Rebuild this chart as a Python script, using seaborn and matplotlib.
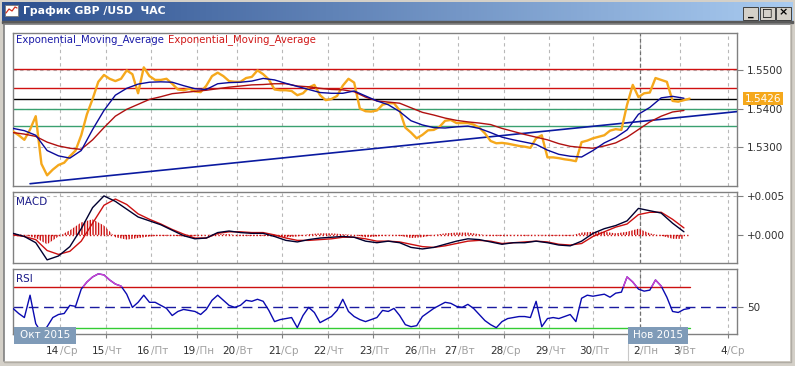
import numpy as np
import matplotlib
matplotlib.use('Agg')
import matplotlib.pyplot as plt
import matplotlib.transforms as mtransforms
from matplotlib.colors import LinearSegmentedColormap
from matplotlib.patches import Rectangle
import seaborn as sns

sns.set_theme(style='white')
plt.rcParams['font.family'] = ['DejaVu Sans']

# ---- data: GBP/USD hourly bars, x = bar index from 13 Oct ----
PRICE_STEP = 3      # price and RSI read every 3 bars
IND_STEP = 6        # EMAs and MACD read every 6 bars

price = [
    1.5340, 1.5330, 1.5318, 1.5345, 1.5380, 1.5255, 1.5225, 1.5240, 1.5252, 1.5258,
    1.5275, 1.5290, 1.5330, 1.5385, 1.5425, 1.5470, 1.5488, 1.5478, 1.5472, 1.5478,
    1.5500, 1.5490, 1.5440, 1.5508, 1.5485, 1.5475, 1.5475, 1.5478, 1.5465, 1.5450,
    1.5448, 1.5452, 1.5445, 1.5443, 1.5460, 1.5485, 1.5494, 1.5485, 1.5472, 1.5470,
    1.5470, 1.5480, 1.5483, 1.5500, 1.5490, 1.5476, 1.5450, 1.5448, 1.5448, 1.5446,
    1.5435, 1.5440, 1.5455, 1.5462, 1.5435, 1.5422, 1.5425, 1.5433, 1.5460, 1.5478,
    1.5468, 1.5400, 1.5393, 1.5392, 1.5395, 1.5410, 1.5414, 1.5414, 1.5395, 1.5350,
    1.5337, 1.5322, 1.5331, 1.5343, 1.5344, 1.5352, 1.5368, 1.5370, 1.5362, 1.5362,
    1.5362, 1.5358, 1.5350, 1.5335, 1.5315, 1.5309, 1.5310, 1.5308, 1.5305, 1.5302,
    1.5300, 1.5297, 1.5322, 1.5330, 1.5272, 1.5272, 1.5270, 1.5267, 1.5265, 1.5262,
    1.5312, 1.5316, 1.5322, 1.5326, 1.5330, 1.5342, 1.5346, 1.5344, 1.5410, 1.5462,
    1.5430, 1.5440, 1.5442, 1.5480, 1.5475, 1.5470, 1.5420, 1.5418, 1.5422, 1.5426,
]

ema_fast = [
    1.5348, 1.5342, 1.5330, 1.5290, 1.5276, 1.5270, 1.5290, 1.5345, 1.5395, 1.5435,
    1.5453, 1.5464, 1.5469, 1.5470, 1.5469, 1.5460, 1.5452, 1.5450, 1.5465, 1.5468,
    1.5469, 1.5472, 1.5479, 1.5475, 1.5466, 1.5458, 1.5450, 1.5442, 1.5440, 1.5440,
    1.5446, 1.5433, 1.5420, 1.5410, 1.5392, 1.5368, 1.5357, 1.5350, 1.5349, 1.5352,
    1.5354, 1.5348, 1.5337, 1.5325, 1.5318, 1.5312, 1.5306, 1.5291, 1.5280, 1.5275,
    1.5273, 1.5290, 1.5310, 1.5324, 1.5344, 1.5385, 1.5403, 1.5428, 1.5432, 1.5427,
]

ema_slow = [
    1.5337, 1.5333, 1.5327, 1.5312, 1.5302, 1.5296, 1.5293, 1.5318, 1.5350, 1.5380,
    1.5398, 1.5411, 1.5424, 1.5431, 1.5439, 1.5442, 1.5445, 1.5448, 1.5452, 1.5456,
    1.5459, 1.5462, 1.5463, 1.5465, 1.5465, 1.5459, 1.5457, 1.5453, 1.5450, 1.5449,
    1.5444, 1.5430, 1.5420, 1.5417, 1.5414, 1.5402, 1.5390, 1.5383, 1.5375, 1.5369,
    1.5365, 1.5362, 1.5358, 1.5348, 1.5340, 1.5332, 1.5325, 1.5318, 1.5308, 1.5301,
    1.5298, 1.5296, 1.5302, 1.5310, 1.5325, 1.5345, 1.5365, 1.5380, 1.5391, 1.5395,
]

macd = [
    0.0002, -0.0002, -0.0010, -0.0032, -0.0027, -0.0015, 0.0008, 0.0035, 0.0050, 0.0043,
    0.0033, 0.0023, 0.0018, 0.0013, 0.0006, -0.0001, -0.0005, -0.0004, 0.0003, 0.0005,
    0.0003, 0.0002, 0.0002, -0.0002, -0.0007, -0.0009, -0.0006, -0.0004, -0.0003, -0.0002,
    -0.0003, -0.0008, -0.0010, -0.0008, -0.0010, -0.0016, -0.0018, -0.0016, -0.0012, -0.0008,
    -0.0005, -0.0006, -0.0009, -0.0012, -0.0010, -0.0010, -0.0008, -0.0010, -0.0013, -0.0014,
    -0.0008, 0.0002, 0.0008, 0.0012, 0.0018, 0.0034, 0.0031, 0.0028, 0.0015, 0.0004,
]

macd_signal = [
    0.0000, -0.0002, -0.0006, -0.0020, -0.0025, -0.0021, -0.0008, 0.0015, 0.0038, 0.0046,
    0.0039, 0.0027, 0.0020, 0.0014, 0.0007, 0.0001, -0.0004, -0.0004, 0.0002, 0.0004,
    0.0004, 0.0003, 0.0003, 0.0000, -0.0004, -0.0007, -0.0007, -0.0006, -0.0005, -0.0003,
    -0.0003, -0.0005, -0.0008, -0.0008, -0.0009, -0.0012, -0.0015, -0.0016, -0.0014, -0.0011,
    -0.0008, -0.0007, -0.0008, -0.0011, -0.0010, -0.0009, -0.0008, -0.0009, -0.0012, -0.0013,
    -0.0011, -0.0002, 0.0004, 0.0010, 0.0014, 0.0026, 0.0029, 0.0029, 0.0020, 0.0009,
]

rsi = [
    49, 44, 40, 62, 34, 25, 31, 40, 43, 44,
    52, 51, 68, 75, 80, 83, 82, 77, 73, 71,
    63, 50, 55, 62, 55, 55, 52, 49, 42, 46,
    48, 47, 46, 43, 48, 57, 62, 57, 52, 50,
    52, 57, 56, 58, 56, 47, 36, 38, 39, 40,
    30, 42, 50, 45, 35, 38, 41, 47, 58, 46,
    41, 38, 36, 38, 40, 47, 46, 49, 42, 33,
    31, 32, 41, 45, 49, 52, 55, 54, 51, 50,
    53, 49, 43, 37, 33, 30, 36, 39, 40, 41,
    41, 40, 56, 31, 39, 40, 39, 41, 43, 36,
    59, 62, 61, 62, 63, 60, 64, 65, 80, 75,
    68, 66, 67, 77, 71, 60, 46, 45, 48, 49,
]

# drawn levels and trend line
red_levels = [1.5503, 1.5453]
black_level = 1.5426
green_levels = [1.5400, 1.5353]
trend_x = [9, 382]
trend_y = [1.5203, 1.5392]
last_price = 1.5426

# day axis
day_pos = [25, 49, 73, 97, 118, 142, 166, 190, 214, 235, 259, 283, 306, 331, 352, 377]
day_num = ['14', '15', '16', '19', '20', '21', '22', '23', '26', '27', '28', '29', '30', '2', '3', '4']
day_name = ['Ср', 'Чт', 'Пт', 'Пн', 'Вт', 'Ср', 'Чт', 'Пт', 'Пн', 'Вт', 'Ср', 'Чт', 'Пт', 'Пн', 'Вт', 'Ср']
month_sep = 331

price_ticks = [1.53, 1.54, 1.55]
macd_ticks = [0.0, 0.005]
rsi_ticks = [50]

# ---- figure ----
W, H = 795, 366
fig = plt.figure(figsize=(W / 100, H / 100), dpi=100, facecolor='#d4d0c8')


def px_axes(z):
    a = fig.add_axes([0, 0, 1, 1], zorder=z)
    a.set_xlim(0, W); a.set_ylim(H, 0); a.axis('off')
    a.patch.set_alpha(0)
    return a


def rect_px(x0, y0, x1, y1):
    return [x0 / W, 1 - y1 / H, (x1 - x0) / W, (y1 - y0) / H]


# window chrome
bg = px_axes(0)
cmap = LinearSegmentedColormap.from_list('title', ['#2c4f8e', '#a9cbf0'])
bg.imshow(np.linspace(0, 1, 256)[None, :], cmap=cmap, aspect='auto',
          extent=(2, 793, 21, 2), zorder=1)
bg.add_patch(Rectangle((2, 21), 791, 1.5, color='#5a5a5a', zorder=2))
bg.add_patch(Rectangle((4, 23), 786, 338, facecolor='white', edgecolor='none', zorder=1))
bg.plot([3.5, 3.5, 790], [361, 23.5, 23.5], color='#808080', lw=1.2, zorder=2)
bg.plot([3.5, 790.5, 790.5], [361.5, 361.5, 23.5], color='#b0aca4', lw=1.0, zorder=2)
# icon
bg.add_patch(Rectangle((5, 5), 13, 11, facecolor='white', edgecolor='#7a7a7a', lw=0.6, zorder=3))
bg.plot([6, 9, 12, 15, 17], [13, 9, 11, 7, 8], color='#d03020', lw=0.9, zorder=4)
bg.text(23, 11.5, 'График GBP /USD  ЧАС', color='white', fontsize=7.8, fontweight='bold',
        va='center', ha='left', zorder=3)
for x0, glyph in [(743, '_'), (759.5, '□'), (776, '×')]:
    bg.add_patch(Rectangle((x0, 6.5), 15, 13, facecolor='#d4d0c8', edgecolor='#404040',
                           lw=0.7, zorder=3))
    bg.text(x0 + 7.5, 12.5, glyph, ha='center', va='center', fontsize=8,
            fontweight='bold', color='black', zorder=4)

ax = fig.add_axes(rect_px(13, 33, 737, 186), zorder=2)
ax_m = fig.add_axes(rect_px(13, 192, 737, 263), zorder=2)
ax_r = fig.add_axes(rect_px(13, 269, 737, 334), zorder=2)

xp = np.arange(len(price)) * PRICE_STEP
xi = np.arange(len(ema_fast)) * IND_STEP
x_end = xp[-1]

GRID = dict(color='#b8b8b8', linestyle=(0, (3, 3)), linewidth=0.8)
for a in (ax, ax_m, ax_r):
    a.set_facecolor('white')
    a.set_xlim(0, 382)
    a.set_xticks(day_pos)
    a.xaxis.grid(True, **GRID)
    a.axvline(month_sep, color='#707070', linestyle=(0, (3, 2)), linewidth=0.9, zorder=1)
    for s in a.spines.values():
        s.set_color('#808080'); s.set_linewidth(1.0)
    a.yaxis.tick_right()
    a.tick_params(axis='y', right=True, left=False, length=4, width=0.8, color='#808080',
                  labelsize=7.5, labelcolor='#303030', pad=3)
    a.tick_params(axis='x', bottom=False, labelbottom=False)
    a.set_axisbelow(True)

# ---- main price panel ----
ax.set_ylim(1.5197, 1.5598)
ax.set_yticks(price_ticks)
ax.set_yticklabels([f'{v:.4f}' for v in price_ticks])
ax.yaxis.grid(True, **GRID)
for lv in red_levels:
    ax.axhline(lv, color='#d01010', lw=1.0, zorder=2)
ax.axhline(black_level, color='black', lw=1.0, zorder=2)
for lv in green_levels:
    ax.axhline(lv, color='#3aa070', lw=1.0, zorder=2)
sns.lineplot(x=trend_x, y=trend_y, ax=ax, color='#0a1aa0', linewidth=1.2, zorder=3)
sns.lineplot(x=xp, y=price, ax=ax, color='#f5a81c', linewidth=1.7, zorder=4)
sns.lineplot(x=xi, y=ema_slow, ax=ax, color='#b01010', linewidth=1.0, zorder=5)
sns.lineplot(x=xi, y=ema_fast, ax=ax, color='#0a0a9a', linewidth=1.0, zorder=6)
ax.text(1.011, last_price, f'{last_price:.4f}',
        transform=mtransforms.blended_transform_factory(ax.transAxes, ax.transData),
        ha='left', va='center', fontsize=7.5, color='white', clip_on=False,
        bbox=dict(boxstyle='square,pad=0.15', facecolor='#f5a81c', edgecolor='none'))
t1 = ax.text(0.004, 0.955, 'Exponential_Moving_Average', transform=ax.transAxes,
             fontsize=7.3, color='#1a1aa8', ha='left', va='center')
ax.annotate('Exponential_Moving_Average', xy=(1, 0.5), xycoords=t1, xytext=(3, 0),
            textcoords='offset points', fontsize=7.3, color='#d01818', ha='left', va='center')

# ---- MACD panel ----
macd_a = np.array(macd)
sig_a = np.array(macd_signal)
hist = macd_a - sig_a
ax_m.set_ylim(-0.0036, 0.0055)
ax_m.set_yticks(macd_ticks)
ax_m.set_yticklabels([f'+{v:.3f}' for v in macd_ticks])
ax_m.axhline(0.005, **GRID)
ax_m.plot([0, x_end], [0, 0], color='#cc1010', lw=1.0, linestyle=(0, (1, 1.5)), zorder=2)
ax_m.fill_between(xi, 0, hist, facecolor='none', edgecolor='#cc1010', hatch='||||||',
                  linewidth=0, zorder=2)
sns.lineplot(x=xi, y=macd_a, ax=ax_m, color='#000030', linewidth=1.0, zorder=4)
sns.lineplot(x=xi, y=sig_a, ax=ax_m, color='#cc1010', linewidth=1.0, zorder=3)
ax_m.text(0.004, 0.86, 'MACD', transform=ax_m.transAxes, fontsize=7.5,
          color='#1a1a88', ha='left', va='center')

# ---- RSI panel ----
rsi_a = np.array(rsi, dtype=float)
ax_r.set_ylim(23.8, 87.8)
ax_r.set_yticks(rsi_ticks)
ax_r.axhline(50, color='#1a1aa0', lw=1.0, linestyle=(0, (7, 4)), zorder=2)
ax_r.plot([0, x_end], [70, 70], color='#cc1010', lw=1.0, zorder=2)
ax_r.plot([0, x_end], [30, 30], color='#33cc33', lw=1.0, zorder=2)
sns.lineplot(x=xp, y=rsi_a, ax=ax_r, color='#0a0ab0', linewidth=1.0, zorder=4)
hi = ax_r.plot(xp, rsi_a, color='#d040d0', lw=1.0, zorder=5)[0]
hi.set_clip_path(Rectangle((0, 70), 400, 40, transform=ax_r.transData))
ax_r.text(0.004, 0.85, 'RSI', transform=ax_r.transAxes, fontsize=7.5,
          color='#1a1a88', ha='left', va='center')
ax_r.tick_params(axis='x', bottom=True, length=3, width=0.8, color='#808080')

for pos, num, name in zip(day_pos, day_num, day_name):
    t = ax_r.annotate(num, xy=(pos, 0), xycoords=('data', 'axes fraction'),
                      xytext=(-0.6, -12.5), textcoords='offset points', ha='right',
                      va='center', fontsize=7.5, color='#303030', annotation_clip=False)
    ax_r.annotate('/' + name, xy=(1, 0.5), xycoords=t, ha='left', va='center',
                  fontsize=7.5, color='#a0a0a0', annotation_clip=False)

for a in (ax, ax_m, ax_r):
    a.set_xlabel(''); a.set_ylabel('')

# month boxes on top
top = px_axes(5)
for x0, x1, label in [(14, 76, 'Окт 2015'), (628, 688, 'Нов 2015')]:
    top.add_patch(Rectangle((x0, 327), x1 - x0, 16.5, facecolor='#7f9bb8', edgecolor='none'))
    top.text((x0 + x1) / 2, 335.5, label, ha='center', va='center', fontsize=7.5, color='white')
top.plot([628, 628], [343.5, 360], color='#c8c8c8', lw=0.8)

fig.savefig('out.png', dpi=100, facecolor=fig.get_facecolor())
